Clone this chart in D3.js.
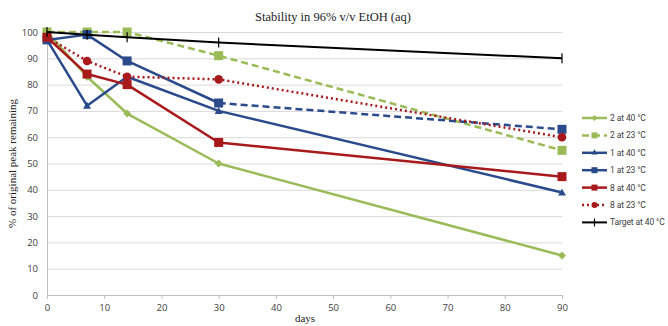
<!DOCTYPE html>
<html>
<head>
<meta charset="utf-8">
<script src="https://cdn.jsdelivr.net/npm/d3@7"></script>
<style>
  html, body { margin: 0; padding: 0; background: #fff; }
  svg { display: block; }
</style>
</head>
<body>
<div id="chart"></div>
<script>
const DAYS = [0, 7, 14, 30, 90];
const X_TICKS = [0, 10, 20, 30, 40, 50, 60, 70, 80, 90];
const Y_TICKS = [0, 10, 20, 30, 40, 50, 60, 70, 80, 90, 100];

const SERIES_NAMES = ["2 at 40 °C", "2 at 23 °C", "1 at 40 °C", "1 at 23 °C", "8 at 40 °C", "8 at 23 °C", "Target at 40 °C"];
const v2at40 = [100, 83, 69, 50, 15];
const v2at23 = [100, 100, 100, 91, 55];
const v1at40 = [97, 72, 83, 70, 39];
const v1at23 = [97, 99, 89, 73, 63];
const v8at40 = [98, 84, 80, 58, 45];
const v8at23 = [98, 89, 83, 82, 60];
const vTarget = [100, 99, 98, 96, 90];

const GREEN = "#9bbb59", BLUE = "#2a4a8c", RED = "#a8191c";

const series = [
  { name: SERIES_NAMES[0], values: v2at40, color: GREEN, dash: null, marker: "diamond" },
  { name: SERIES_NAMES[1], values: v2at23, color: GREEN, dash: "7 4", marker: "square" },
  { name: SERIES_NAMES[2], values: v1at40, color: BLUE, dash: null, marker: "triangle" },
  { name: SERIES_NAMES[3], values: v1at23, color: BLUE, dash: null, lastDash: "7 4", marker: "square" },
  { name: SERIES_NAMES[4], values: v8at40, color: RED, dash: null, marker: "square" },
  { name: SERIES_NAMES[5], values: v8at23, color: RED, dash: "2 3", marker: "circle" },
  { name: SERIES_NAMES[6], values: vTarget, color: "#000", dash: null, marker: "plus", width: 2 },
];

const W = 668, H = 326;
const margin = { top: 32, right: 106, bottom: 31, left: 47 };
const iw = W - margin.left - margin.right;
const ih = H - margin.top - margin.bottom;

const svg = d3.select("#chart").append("svg").attr("width", W).attr("height", H);
const g = svg.append("g").attr("transform", `translate(${margin.left},${margin.top})`);

const x = d3.scaleLinear().domain([0, 90]).range([0, iw]);
const y = d3.scaleLinear().domain([0, 100]).range([ih, 0]);

// grid
g.append("g")
  .call(d3.axisLeft(y).tickValues(Y_TICKS).tickSize(-iw).tickFormat(() => ""))
  .call((a) => a.select(".domain").remove())
  .selectAll(".tick line")
  .attr("stroke", "#d9d9d9")
  .attr("stroke-width", 1);

// y axis
g.append("g")
  .call(d3.axisLeft(y).tickValues(Y_TICKS).tickSize(0).tickPadding(9))
  .call((a) => a.select(".domain").attr("stroke", "#bfbfbf"))
  .selectAll("text")
  .attr("font-family", "'Open Sans', sans-serif")
  .attr("font-size", "9.5px")
  .attr("fill", "#404040");

// x axis
g.append("g")
  .attr("transform", `translate(0,${ih})`)
  .call(d3.axisBottom(x).tickValues(X_TICKS).tickSize(4).tickPadding(5))
  .call((a) => a.select(".domain").attr("stroke", "#bfbfbf"))
  .call((a) => a.selectAll(".tick line").attr("stroke", "#bfbfbf"))
  .selectAll("text")
  .attr("font-family", "'Open Sans', sans-serif")
  .attr("font-size", "9.5px")
  .attr("fill", "#404040");

// titles
svg.append("text")
  .attr("x", 333).attr("y", 21)
  .attr("text-anchor", "middle")
  .attr("font-family", "'Liberation Serif', serif")
  .attr("font-size", "12.5px")
  .attr("fill", "#222")
  .text("Stability in 96% v/v EtOH (aq)");

svg.append("text")
  .attr("transform", `translate(16,${margin.top + ih / 2}) rotate(-90)`)
  .attr("text-anchor", "middle")
  .attr("font-family", "'Liberation Serif', serif")
  .attr("font-size", "11px")
  .attr("fill", "#222")
  .text("% of original peak remaining");

svg.append("text")
  .attr("x", 305).attr("y", 322)
  .attr("text-anchor", "middle")
  .attr("font-family", "'Liberation Serif', serif")
  .attr("font-size", "11px")
  .attr("fill", "#222")
  .text("days");

function drawMarker(sel, type, color, cx, cy) {
  if (type === "square") {
    sel.append("rect").attr("x", cx - 4.5).attr("y", cy - 4.5).attr("width", 9).attr("height", 9).attr("fill", color);
  } else if (type === "diamond") {
    sel.append("path").attr("d", d3.symbol(d3.symbolDiamond2, 40)()).attr("transform", `translate(${cx},${cy})`).attr("fill", color);
  } else if (type === "triangle") {
    sel.append("path").attr("d", d3.symbol(d3.symbolTriangle2, 45)()).attr("transform", `translate(${cx},${cy + 0.8})`).attr("fill", color);
  } else if (type === "circle") {
    sel.append("circle").attr("cx", cx).attr("cy", cy).attr("r", 4.3).attr("fill", color);
  } else if (type === "plus") {
    sel.append("path").attr("d", `M${cx},${cy - 5}V${cy + 5}`).attr("stroke", color).attr("stroke-width", 1.2);
  }
}

const line = d3.line().x((d) => x(d[0])).y((d) => y(d[1]));

series.forEach((s) => {
  const pts = DAYS.map((d, i) => [d, s.values[i]]);
  const sg = g.append("g");
  if (s.lastDash) {
    sg.append("path").attr("d", line(pts.slice(0, -1))).attr("fill", "none")
      .attr("stroke", s.color).attr("stroke-width", 2.5).attr("stroke-linejoin", "round");
    sg.append("path").attr("d", line(pts.slice(-2))).attr("fill", "none")
      .attr("stroke", s.color).attr("stroke-width", 2.5).attr("stroke-dasharray", s.lastDash);
  } else {
    sg.append("path").attr("d", line(pts)).attr("fill", "none")
      .attr("stroke", s.color).attr("stroke-width", s.width || 2.5)
      .attr("stroke-linejoin", "round")
      .attr("stroke-dasharray", s.dash);
  }
  pts.forEach((p) => drawMarker(sg, s.marker, s.color, x(p[0]), y(p[1])));
});

// legend
const legend = svg.append("g").attr("transform", "translate(582,118)");
series.forEach((s, i) => {
  const ly = i * 17.4;
  const lg = legend.append("g").attr("transform", `translate(0,${ly})`);
  lg.append("line").attr("x1", 0).attr("x2", 25).attr("y1", 0).attr("y2", 0)
    .attr("stroke", s.color).attr("stroke-width", s.width || 2.5)
    .attr("stroke-dasharray", s.dash);
  const m = s.marker;
  if (m === "square") {
    lg.append("rect").attr("x", 9.5).attr("y", -3).attr("width", 6).attr("height", 6).attr("fill", s.color);
  } else if (m === "diamond") {
    lg.append("path").attr("d", d3.symbol(d3.symbolDiamond2, 22)()).attr("transform", "translate(12.5,0)").attr("fill", s.color);
  } else if (m === "triangle") {
    lg.append("path").attr("d", d3.symbol(d3.symbolTriangle2, 26)()).attr("transform", "translate(12.5,0)").attr("fill", s.color);
  } else if (m === "circle") {
    lg.append("circle").attr("cx", 12.5).attr("cy", 0).attr("r", 3).attr("fill", s.color);
  } else if (m === "plus") {
    lg.append("path").attr("d", "M12.5,-4V4").attr("stroke", s.color).attr("stroke-width", 1.2);
  }
  lg.append("text").attr("x", 28).attr("y", 0).attr("dy", "0.35em")
    .attr("font-family", "Roboto, sans-serif")
    .attr("font-size", "8.5px")
    .attr("letter-spacing", "-0.1px")
    .attr("fill", "#404040")
    .text(s.name);
});
</script>
</body>
</html>
